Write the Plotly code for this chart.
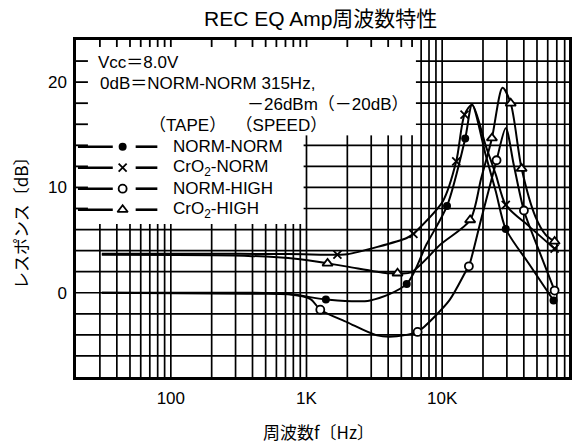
import math
import plotly.graph_objects as go

# REC EQ amplifier frequency response, four tape / speed combinations
# Curve points (Hz, dB)
nn_f = [31, 161, 730, 1390, 2940, 5480, 7670, 10860, 14790, 16620, 21020, 24890, 29440, 43360, 66260]
nn_db = [0.0, 0.0, -0.1, -0.64, -0.73, 0.84, 4.6, 8.24, 14.65, 17.86, 13.0, 9.6, 6.06, 2.8, -0.73]

cn_f = [31, 161, 730, 1690, 2000, 5480, 6140, 6490, 10150, 12700, 14620, 16620, 21020, 24890, 29440, 43360, 67430]
cn_db = [3.7, 3.7, 3.68, 3.61, 3.65, 5.2, 5.59, 5.88, 8.72, 12.48, 16.92, 17.86, 13.9, 11.2, 8.34, 6.35, 4.18]

nh_f = [31, 372, 730, 1070, 1264, 2000, 3310, 4630, 6590, 7350, 11290, 15040, 15740, 19340, 25180, 29440, 33650, 40060, 51300, 67430]
nh_db = [0.0, -0.1, -0.15, -0.6, -1.61, -2.81, -4.05, -4.14, -3.72, -3.25, -0.73, 2.1, 2.51, 6.93, 12.58, 15.63, 12.2, 7.81, 4.13, 0.21]

ch_f = [31, 372, 863, 1430, 2000, 3917, 4688, 5900, 9800, 16080, 19340, 23270, 27860, 32010, 38520, 48770, 58000, 67430]
ch_db = [3.6, 3.5, 3.2, 2.79, 2.48, 1.86, 1.85, 1.94, 4.62, 6.91, 10.8, 14.68, 19.47, 17.99, 11.79, 7.2, 5.5, 4.87]

# Measured points marked on each curve
nn_mk_f = [1390, 5480, 10860, 14790, 29440, 66260]
nn_mk_db = [-0.64, 0.84, 8.24, 14.65, 6.06, -0.73]
cn_mk_f = [1690, 6140, 12700, 14620, 29440, 67430]
cn_mk_db = [3.61, 5.59, 12.48, 16.92, 8.34, 4.18]
nh_mk_f = [1264, 6590, 15740, 25180, 40060, 67430]
nh_mk_db = [-1.61, -3.72, 2.51, 12.58, 7.81, 0.21]
ch_mk_f = [1430, 4688, 16080, 23270, 32010, 38520, 67430]
ch_mk_db = [2.79, 1.85, 6.91, 14.68, 17.99, 11.79, 4.87]

series_names = ["NORM-NORM", "CrO<sub>2</sub>-NORM", "NORM-HIGH", "CrO<sub>2</sub>-HIGH"]

# Axis ticks
X_MIN, X_MAX = math.log10(20), 4.935
Y_MIN, Y_MAX = -8, 24
x_tickvals = [m * 10 ** e for e in range(1, 5) for m in range(1, 10)]
x_tickvals = [v for v in x_tickvals if 20 <= v <= 86000]
x_labels = {100: "100", 1000: "1K", 10000: "10K"}
x_ticktext = [x_labels.get(v, "") for v in x_tickvals]
y_tickvals = list(range(-8, 25, 2))
y_labels = {0: "0", 10: "10", 20: "20"}
y_ticktext = [y_labels.get(v, "") for v in y_tickvals]

FONT = "Liberation Sans, Arial, Noto Sans CJK JP, sans-serif"
CJK = "Noto Sans CJK JP, Liberation Sans, sans-serif"

markers = [
    dict(symbol="circle", size=8, color="black", line=dict(color="black", width=0)),
    dict(symbol="x-thin", size=8, color="black", line=dict(color="black", width=1.8)),
    dict(symbol="circle", size=8, color="white", line=dict(color="black", width=1.8)),
    dict(symbol="triangle-up", size=9, color="white", line=dict(color="black", width=1.8)),
]

fig = go.Figure()

curves = [(nn_f, nn_db), (cn_f, cn_db), (nh_f, nh_db), (ch_f, ch_db)]
marks = [(nn_mk_f, nn_mk_db), (cn_mk_f, cn_mk_db), (nh_mk_f, nh_mk_db), (ch_mk_f, ch_mk_db)]

for (f, db) in curves:
    fig.add_trace(go.Scatter(x=f, y=db, mode="lines",
                             line=dict(color="black", width=2, shape="spline", smoothing=0.8),
                             hoverinfo="skip"))
for (f, db), mk in zip(marks, markers):
    fig.add_trace(go.Scatter(x=f, y=db, mode="markers", marker=mk, hoverinfo="skip"))

# Grid: the notes panel (upper) and key panel (lower) are left clear of grid lines;
# the frame keeps its short tick marks there
NOTE_X, NOTE_Y = 0.6895, 0.717
KEY_X, KEY_Y = 0.4617, 0.454
GRID = dict(color="black", width=1.7)
TOP_TICK = 7 / 337     # tick length along the top edge, in plot-height units
LEFT_TICK = 12 / 496   # tick length along the left edge, in plot-width units
shapes = []
tick_x, tick_y = [], []
for v in x_tickvals:
    fx = (math.log10(v) - X_MIN) / (X_MAX - X_MIN)
    if fx <= 0.002 or fx >= 0.998:
        continue
    top = KEY_Y if fx < KEY_X else (NOTE_Y if fx < NOTE_X else 1)
    shapes.append(dict(type="line", xref="x domain", yref="y domain", x0=fx, x1=fx, y0=0, y1=top,
                       line=GRID, layer="below"))
    if top < 1:
        tick_x += [fx, fx, None]
        tick_y += [1 - TOP_TICK, 1, None]
for v in y_tickvals:
    fy = (v - Y_MIN) / (Y_MAX - Y_MIN)
    if fy <= 0.002 or fy >= 0.998:
        continue
    left = NOTE_X if fy > NOTE_Y else (KEY_X if fy > KEY_Y else 0)
    shapes.append(dict(type="line", xref="x domain", yref="y domain", x0=left, x1=1, y0=fy, y1=fy,
                       line=GRID, layer="below"))
    if left > 0:
        tick_x += [0, LEFT_TICK, None]
        tick_y += [fy, fy, None]

# Frame ticks inside the panels (overlay axes in 0..1 units of the plot area)
fig.add_trace(go.Scatter(x=tick_x, y=tick_y, mode="lines", line=dict(color="black", width=1.8),
                         xaxis="x2", yaxis="y2", hoverinfo="skip", cliponaxis=False))

# Key drawn in the upper-left corner of the plot
key_rows_y = [0.6834, 0.6211, 0.5588, 0.4964]
for ky, mk in zip(key_rows_y, markers):
    fig.add_trace(go.Scatter(x=[0.0946], y=[ky], mode="markers", marker=mk,
                             xaxis="x2", yaxis="y2", hoverinfo="skip"))
for ky in key_rows_y:
    shapes.append(dict(type="line", xref="paper", yref="paper", x0=0.004, x1=0.0746, y0=ky, y1=ky,
                       line=dict(color="black", width=2.6)))
    shapes.append(dict(type="line", xref="paper", yref="paper", x0=0.121, x1=0.165, y0=ky, y1=ky,
                       line=dict(color="black", width=2.6)))

annotations = [
    dict(text="REC EQ Amp周波数特性", x=0.495, y=1.065, xref="paper", yref="paper",
         showarrow=False, font=dict(size=21, family=FONT, color="black"), xanchor="center", yanchor="middle"),
    dict(text="周波数f〔Hz〕", x=0.492, y=-0.163, xref="paper", yref="paper",
         showarrow=False, font=dict(size=17, family=CJK, color="black"), xanchor="center", yanchor="middle"),
    dict(text="レスポンス〔dB〕", x=-0.113, y=0.47, xref="paper", yref="paper", textangle=-90,
         showarrow=False, font=dict(size=17, family=CJK, color="black"), xanchor="center", yanchor="middle"),
    dict(text="Vcc＝8.0V", x=0.040, y=0.9332, xref="paper", yref="paper",
         showarrow=False, font=dict(size=17, family=FONT, color="black"), xanchor="left", yanchor="middle"),
    dict(text="0dB＝NORM-NORM 315Hz,", x=0.044, y=0.8703, xref="paper", yref="paper",
         showarrow=False, font=dict(size=17, family=FONT, color="black"), xanchor="left", yanchor="middle"),
    dict(text="－26dBm（－20dB）", x=0.68, y=0.808, xref="paper", yref="paper",
         showarrow=False, font=dict(size=17, family=FONT, color="black"), xanchor="right", yanchor="middle"),
    dict(text="（TAPE）  （SPEED）", x=0.145, y=0.7457, xref="paper", yref="paper",
         showarrow=False, font=dict(size=17, family=FONT, color="black"), xanchor="left", yanchor="middle"),
]
for ky, name in zip(key_rows_y, series_names):
    annotations.append(dict(text=name, x=0.1935, y=ky, xref="paper", yref="paper",
                            showarrow=False, font=dict(size=17, family=FONT, color="black"),
                            xanchor="left", yanchor="middle"))

axis_common = dict(showgrid=False, showline=True,
                   linecolor="black", linewidth=2.5, mirror=True, ticks="",
                   zeroline=False, tickfont=dict(size=17, family=FONT, color="black"))

fig.update_layout(
    width=576, height=444,
    margin=dict(l=76, r=4, t=40, b=67),
    paper_bgcolor="white", plot_bgcolor="white",
    showlegend=False,
    xaxis=dict(type="log", range=[X_MIN, X_MAX], tickvals=x_tickvals, ticktext=x_ticktext,
               tickangle=0, ticklabelstandoff=4, **axis_common),
    yaxis=dict(range=[Y_MIN, Y_MAX], tickvals=y_tickvals, ticktext=y_ticktext,
               ticklabelstandoff=3, **axis_common),
    xaxis2=dict(overlaying="x", range=[0, 1], visible=False),
    yaxis2=dict(overlaying="y", range=[0, 1], visible=False),
    shapes=shapes,
    annotations=annotations,
)

fig.write_html("out.html")
